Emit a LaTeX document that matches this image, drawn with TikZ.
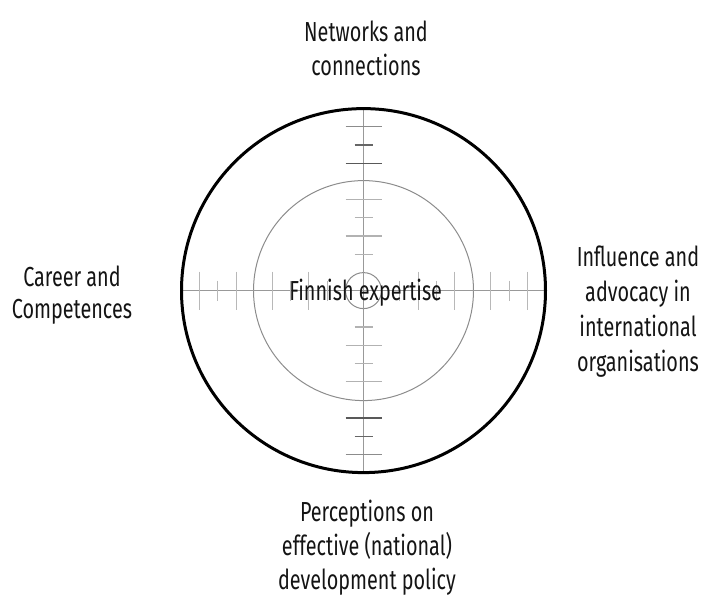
\documentclass[tikz,border=0pt]{standalone}
\usepackage{fontspec}
\setmainfont[FakeStretch=0.72]{Fira Sans}
\begin{document}
\begin{tikzpicture}[x=1pt,y=-1pt,
  lbl/.style={font=\fontsize{27.5}{34}\selectfont, align=center, anchor=base, inner sep=0pt, text=black!92},
  axisline/.style={draw=black!40, line width=1.1pt},
  ring/.style={draw=black!45, line width=1pt}]
\useasboundingbox (0,0) rectangle (705,597);
\def\u{18.2}
\coordinate (c) at (363.5,290.6);
\coordinate (n) at (363.5,108.6);
\coordinate (s) at (363.5,472.6);
\coordinate (w) at (181.5,290.6);
\coordinate (e) at (545.5,290.6);

% inner rings
\draw[ring] (c) circle[radius=110];
\draw[ring] (c) circle[radius=18];

% cross hairs
\draw[axisline] (n) -- (s);
\draw[axisline] (w) -- (e);

% ticks on the vertical axis
\foreach \k/\h/\col in {2/9/black!30, 3/18/black!30, 4/9/black!30, 5/18/black!30,
                        7/18/black!65, 8/9/black!60, 9/18/black!45} {
  \draw[\col, line width=1.1pt] ([shift={(-\h,-\k*\u)}]c) -- ([shift={(\h,-\k*\u)}]c);
  \draw[\col, line width=1.1pt] ([shift={(-\h,\k*\u)}]c) -- ([shift={(\h,\k*\u)}]c);
}
% ticks on the horizontal axis
\foreach \k/\h in {2/10, 3/19, 4/10, 5/19, 7/19, 8/10, 9/19} {
  \draw[black!28, line width=1.1pt] ([shift={(-\k*\u,-\h)}]c) -- ([shift={(-\k*\u,\h)}]c);
  \draw[black!28, line width=1.1pt] ([shift={(\k*\u,-\h)}]c) -- ([shift={(\k*\u,\h)}]c);
}

% outer ring
\draw[line width=3pt] (c) circle[radius=182];

% labels (anchored at the baseline of the last line)
\node[lbl] (mid) at (365.7,300.7) {Finnish expertise};
\node[lbl] (top) at (366,75) {Networks and\\connections};
\node[lbl, font=\fontsize{27.5}{32}\selectfont] (left) at (72,318) {Career and\\Competences};
\node[lbl, font=\fontsize{27.5}{35}\selectfont] (right) at (638,371.5) {Influence and\\advocacy in\\international\\organisations};
\node[lbl] (bottom) at (367,589) {Perceptions on\\effective (national)\\development policy};
\end{tikzpicture}
\end{document}
